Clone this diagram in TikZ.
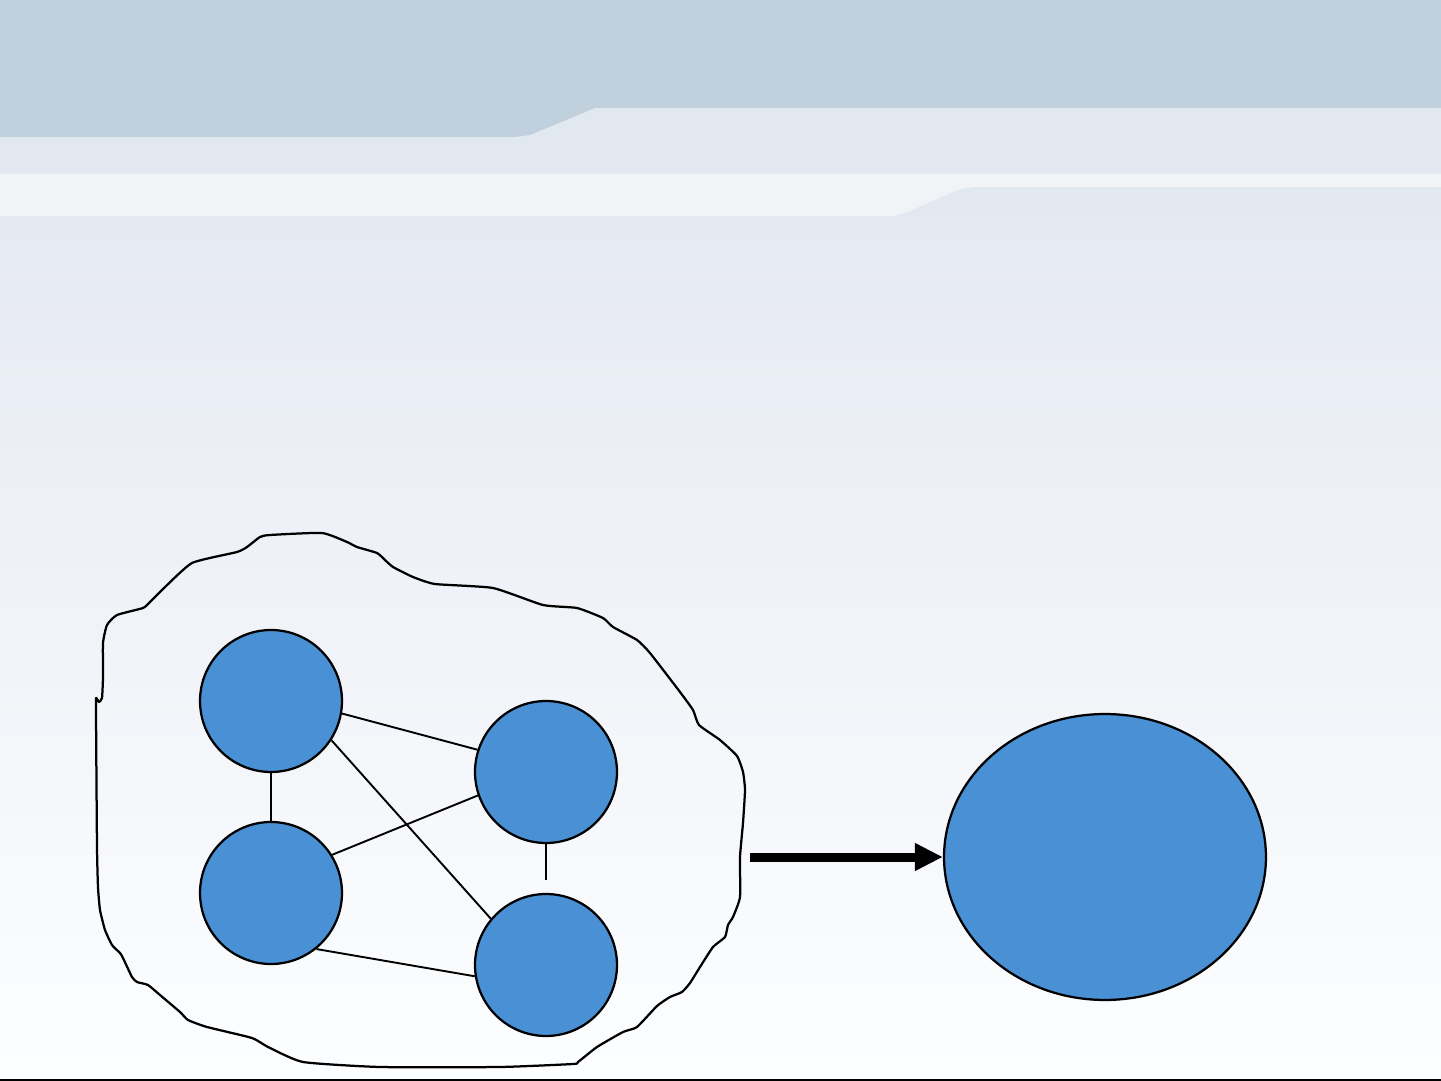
\documentclass[tikz,border=0pt]{standalone}
\usepackage{tikz}
\usetikzlibrary{arrows, arrows.meta, shapes.geometric}

\definecolor{bandtop}{HTML}{C0D0DD}
\definecolor{bandmid}{HTML}{E2E8F0}
\definecolor{bandlight}{HTML}{F0F4F7}
\definecolor{bgtop}{HTML}{E5E9F2}
\definecolor{bgbottom}{HTML}{FDFEFF}
\definecolor{nodeblue}{HTML}{4A90D4}

\begin{document}
\begin{tikzpicture}[x=0.02cm, y=-0.02cm,
        vertex/.style={circle, draw=black, fill=nodeblue, line width=0.045cm, inner sep=0pt, minimum size=2.84cm},
        link/.style={black, line width=0.038cm},
        blob/.style={black, line width=0.045cm, line join=round}]
        \useasboundingbox (0,0) rectangle (1441,1081);
        % background bands
        \shade[top color=bgtop, bottom color=bgbottom] (0,216) rectangle (1441,1081);
        \fill[bandmid] (0,108) rectangle (1441,216);
        \fill[bandtop] (0,0) -- (1441,0) -- (1441,108) -- (595,108) -- (530,135) -- (515,137) -- (0,137) -- cycle;
        \fill[bandlight] (0,174) -- (1441,174) -- (1441,187) -- (975,187) -- (960,189) -- (905,213) -- (895,216) -- (0,216) -- cycle;
        \draw[black, line width=0.04cm] (0,1080) -- (1441,1080);
        % outline of the group
        \draw[blob] plot[smooth cycle, tension=0.3] coordinates {
            (96,698) (99,702) (102,698) (103,677) (103,643) (107,625) (117,615) (143,608)
            (150,602) (162,590) (192,563) (237,552) (247,547) (260,537) (270,535) (322,533)
            (347,542) (357,547) (377,553) (385,560) (393,567) (413,577) (435,584) (493,588)
            (543,605) (577,608) (603,618) (613,627) (637,640) (650,653) (680,692) (693,710)
            (699,725) (720,740) (737,756) (743,772) (745,790) (743,823) (740,857) (740,897)
            (733,917) (728,925) (725,937) (713,947) (700,967) (690,983) (682,992) (670,997)
            (657,1006) (637,1027) (623,1032) (597,1047) (578,1062) (573,1064) (500,1067) (380,1067)
            (303,1062) (268,1047) (252,1038) (207,1027) (188,1020) (180,1012) (160,995) (148,985)
            (137,982) (132,977) (123,958) (120,953) (112,945) (105,930) (100,910) (98,887)
            (97,847) (96,713)};
        % the four nodes
        \node[vertex] (topleft) at (271,701) {};
        \node[vertex] (botleft) at (271,893) {};
        \node[vertex] (topright) at (546,772) {};
        \node[vertex] (botright) at (546,965) {};
        \coordinate (stub) at (546,880);
        \draw[link] (topleft.south) -- (botleft.north);
        \draw[link] (topleft.-10) -- (topright.162);
        \draw[link] (topleft.-33) -- (botright.140);
        \draw[link] (botleft.32) -- (topright.199);
        \draw[link] (botleft.-51) -- (botright.189);
        \draw[link] (topright.south) -- (stub);
        % merged node
        \node[ellipse, draw=black, fill=nodeblue, line width=0.045cm, inner sep=0pt,
              minimum width=6.44cm, minimum height=5.72cm] (merged) at (1105,857) {};
        \coordinate (arrowstart) at (750,857);
        \draw[-{Triangle[length=0.56cm, width=0.52cm]}, line width=0.18cm] (arrowstart) -- (merged.west);
      \end{tikzpicture}
\end{document}
